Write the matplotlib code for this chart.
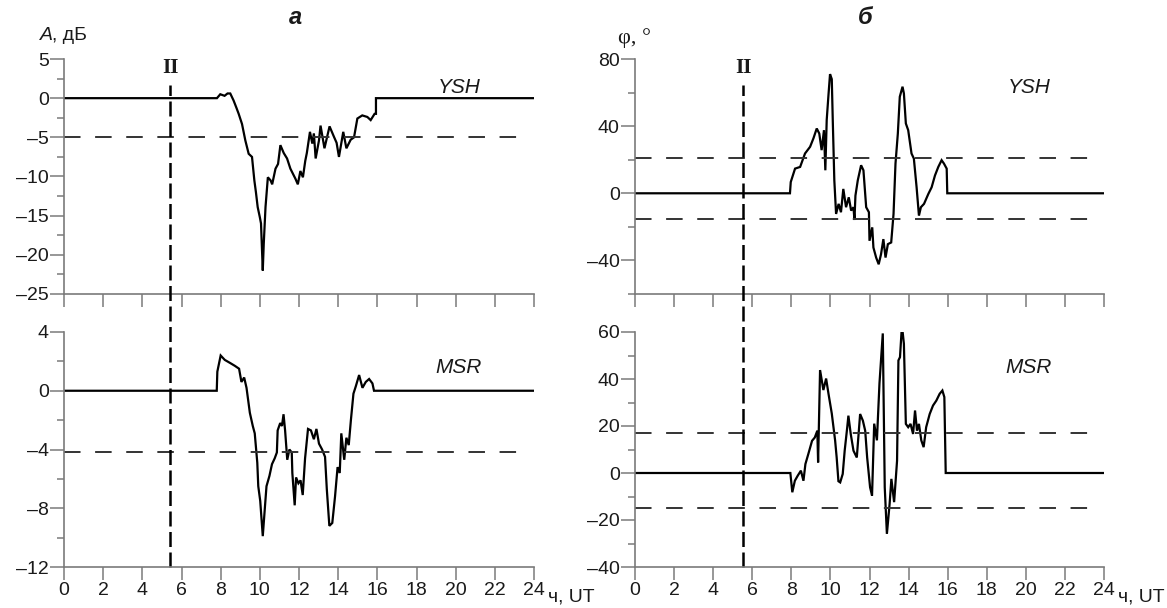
import matplotlib
matplotlib.use("Agg")
import matplotlib.pyplot as plt
import matplotlib.transforms as mtransforms
from matplotlib.ticker import MultipleLocator

plt.rcParams['font.family'] = ['Liberation Sans Narrow', 'Liberation Sans', 'DejaVu Sans']

# --- data (hours UT, value) ---
# amplitude, YSH (dB)
a_ysh_t = [0, 7.81, 7.98, 8.2, 8.35, 8.49, 8.66, 8.8, 8.92, 9.09, 9.26, 9.43, 9.6, 9.72, 9.8,
           9.89, 10.0, 10.06, 10.15, 10.2, 10.29, 10.41, 10.55, 10.63, 10.8, 10.93, 11.05,
           11.22, 11.39, 11.56, 11.82, 11.94, 12.07, 12.2, 12.32, 12.4, 12.56, 12.68, 12.76,
           12.85, 13.02, 13.1, 13.3, 13.56, 13.78, 13.92, 14.04, 14.26, 14.42, 14.64, 14.81,
           14.98, 15.23, 15.49, 15.66, 15.86, 15.93, 15.93, 24]
a_ysh_v = [0, 0, 0.5, 0.3, 0.6, 0.6, -0.3, -1.2, -2.0, -3.3, -5.4, -7.1, -7.5, -10.5, -12.0,
           -13.9, -15.2, -16.0, -22.0, -18.6, -13.9, -10.1, -10.5, -11.0, -9.0, -8.4, -6.0,
           -7.0, -7.7, -9.0, -10.3, -11.0, -9.3, -10.1, -8.0, -7.0, -4.3, -5.8, -4.5,
           -7.7, -5.4, -3.5, -6.4, -3.6, -4.9, -5.7, -7.5, -4.3, -6.4, -5.3, -5.0,
           -2.6, -2.2, -2.4, -2.8, -2.0, -2.0, 0, 0]

# amplitude, MSR (dB)
a_msr_t = [0, 7.8, 7.83, 8.0, 8.21, 8.47, 8.72, 8.94, 9.06, 9.2, 9.32, 9.49, 9.64, 9.74,
           9.87, 9.92, 10.02, 10.15, 10.25, 10.34, 10.49, 10.62, 10.76, 10.87, 10.91, 11.04,
           11.13, 11.21, 11.29, 11.4, 11.51, 11.63, 11.66, 11.78, 11.85, 11.97, 12.08, 12.19,
           12.31, 12.46, 12.61, 12.76, 12.89, 13.02, 13.18, 13.33, 13.42, 13.55, 13.7, 13.84,
           13.97, 14.08, 14.16, 14.31, 14.42, 14.54, 14.65, 14.78, 14.9, 15.07, 15.24, 15.41,
           15.58, 15.75, 15.83, 24]
a_msr_v = [0, 0, 1.3, 2.4, 2.1, 1.9, 1.7, 1.5, 0.6, 0.9, 0.2, -1.5, -2.4, -2.9,
           -4.9, -6.5, -7.5, -9.9, -8.1, -6.5, -5.8, -5.0, -4.6, -4.2, -2.7, -2.2,
           -2.4, -1.6, -2.7, -4.7, -4.0, -4.2, -5.6, -7.8, -5.9, -6.3, -6.1, -7.1,
           -4.6, -2.6, -2.7, -3.3, -2.6, -3.6, -4.0, -4.5, -6.7, -9.2, -9.0, -7.2,
           -5.2, -5.6, -2.9, -4.7, -3.2, -3.7, -2.0, -0.2, 0.3, 1.07, 0.2, 0.6,
           0.8, 0.5, 0, 0]

# phase, YSH (deg)
p_ysh_t = [0, 7.93, 7.97, 8.19, 8.45, 8.7, 8.96, 9.13, 9.3, 9.43, 9.55, 9.67, 9.74, 9.81,
           9.9, 9.98, 10.07, 10.12, 10.2, 10.29, 10.42, 10.54, 10.66, 10.8, 10.94, 11.06,
           11.18, 11.23, 11.28, 11.4, 11.57, 11.69, 11.83, 11.97, 12.0, 12.14, 12.2, 12.34,
           12.47, 12.59, 12.71, 12.82, 12.94, 13.11, 13.23, 13.33, 13.45, 13.55, 13.69, 13.76,
           13.86, 13.98, 14.15, 14.27, 14.41, 14.53, 14.63, 14.79, 15.01, 15.18, 15.35, 15.52,
           15.69, 15.81, 15.95, 15.98, 24]
p_ysh_v = [0, 0, 6.7, 14.7, 15.7, 23.7, 27.7, 32.7, 38.6, 35.6, 25.7, 37.6, 13.7, 43.6,
           58.5, 71, 68, 43.6, 7.7, -12.3, -6.3, -11.3, 2.6, -8.3, -2.4, -10.3,
           -8.3, -15.9, -1.4, 7.7, 16.7, 13.7, -8.3, -11.3, -28.3, -20.3, -32.3, -38.3,
           -42.3, -36.3, -27.3, -38.3, -30.3, -29.3, -12.3, 17.7, 35.6, 57.5, 63.5, 59.5,
           41.6, 37.6, 23.7, 20.7, 3.6, -13.3, -8.3, -6.3, -0.4, 3.6, 10.6, 15.7,
           19.7, 17.7, 14.7, 0, 0]

# phase, MSR (deg)
p_msr_t = [0, 7.95, 8.05, 8.18, 8.33, 8.49, 8.62, 8.72, 8.87, 9.06, 9.2, 9.33, 9.37, 9.47,
           9.64, 9.78, 9.9, 10.07, 10.24, 10.32, 10.41, 10.5, 10.63, 10.73, 10.86, 10.92,
           11.04, 11.18, 11.35, 11.52, 11.66, 11.78, 11.88, 12.03, 12.13, 12.24, 12.38, 12.51,
           12.68, 12.78, 12.89, 13.03, 13.12, 13.26, 13.41, 13.48, 13.56, 13.66, 13.76, 13.86,
           13.98, 14.1, 14.23, 14.33, 14.43, 14.53, 14.65, 14.77, 14.9, 15.08, 15.25, 15.42,
           15.59, 15.73, 15.83, 15.9, 24]
p_msr_v = [0, 0, -8.2, -3.3, -1.1, 1.0, -3.3, 3.8, 8.1, 13.7, 15.1, 18.0, 4.5, 43.8,
           35.3, 40.2, 33.8, 25.3, 13.9, 6.6, -3.5, -4.0, -0.4, 9.5, 19.4, 24.4,
           16.6, 9.5, 6.6, 25.1, 22.3, 18.0, 6.6, -6.1, -9.6, 21.0, 13.9, 38.1,
           59.4, -6.1, -25.9, -13.1, -2.5, -12.4, 5.2, 47.9, 49.3, 62.8, 55.0, 20.9,
           19.5, 20.9, 16.6, 26.6, 18.0, 20.9, 13.9, 11.0, 19.5, 25.1, 28.7, 30.8,
           33.7, 35.1, 32.3, 0, 0]

# threshold (dashed) levels
a_ysh_thr = [-5.0]
a_msr_thr = [-4.2]
p_ysh_thr = [21.0, -15.5]
p_msr_thr = [17.0, -14.8]
thr_end = 23.2

# "II" marker times
mark_left = 5.42
mark_right = 5.55

xticks = list(range(0, 25, 2))

gray = '#7a7a7a'
ink = '#1a1a1a'

fig = plt.figure(figsize=(11.67, 6.08), dpi=100)

W = 1167.0
H = 608.0


def box(x0, x1, ytop, ybot):
    return [x0 / W, 1 - ybot / H, (x1 - x0) / W, (ybot - ytop) / H]


ax_a1 = fig.add_axes(box(64, 534, 59, 294))
ax_a2 = fig.add_axes(box(64, 534, 332, 567))
ax_p1 = fig.add_axes(box(635, 1104, 59, 294))
ax_p2 = fig.add_axes(box(635, 1104, 332, 567))

panels = [
    (ax_a1, a_ysh_t, a_ysh_v, a_ysh_thr, (-25, 5), 5, 2.5, 'YSH'),
    (ax_a2, a_msr_t, a_msr_v, a_msr_thr, (-12, 4), 4, 2, 'MSR'),
    (ax_p1, p_ysh_t, p_ysh_v, p_ysh_thr, (-60, 80), 40, 20, 'YSH'),
    (ax_p2, p_msr_t, p_msr_v, p_msr_thr, (-40, 60), 20, 10, 'MSR'),
]

for ax, t, v, thr, ylim, maj, mnr, name in panels:
    ax.plot(t, v, color='black', lw=1.6, solid_joinstyle='miter')
    for level in thr:
        ax.plot([0, thr_end], [level, level], color='#333333', lw=1.4,
                dashes=(8.5, 7.5))
    ax.set_xlim(0, 24)
    ax.set_ylim(*ylim)
    ax.set_xticks(xticks)
    ax.yaxis.set_major_locator(MultipleLocator(maj))
    ax.yaxis.set_minor_locator(MultipleLocator(mnr))
    for s in ['top', 'right']:
        ax.spines[s].set_visible(False)
    for s in ['left', 'bottom']:
        ax.spines[s].set_color(gray)
        ax.spines[s].set_linewidth(1.2)
    ax.tick_params(axis='y', which='major', length=10, width=1.1, color=gray,
                   labelsize=14, labelcolor=ink, pad=1)
    ax.tick_params(axis='y', which='minor', length=5, width=1.1, color=gray)
    ax.tick_params(axis='x', which='major', length=9, width=1.1, color=gray,
                   labelsize=14, labelcolor=ink, pad=2)
    ax.text(0.84, 0.88 if ax in (ax_a1, ax_p1) else 0.85, name, transform=ax.transAxes,
            fontsize=15, style='italic', family=['Liberation Sans', 'DejaVu Sans'],
            color=ink, ha='center', va='center')

# y labels with en dash minus like the source
for ax in (ax_a1, ax_a2, ax_p1, ax_p2):
    ax.set_yticklabels([('\u2013' + str(int(abs(x))) if x < 0 else str(int(x)))
                        for x in ax.get_yticks()])

for ax in (ax_a1, ax_p1):
    ax.tick_params(axis='x', labelbottom=False)

# vertical dashed "II" line through both panels of each column
for ax_top, ax_bot, mark in ((ax_a1, ax_a2, mark_left), (ax_p1, ax_p2, mark_right)):
    tr = mtransforms.blended_transform_factory(ax_bot.transData, ax_bot.transAxes)
    ytop = (567 - 85) / 235.0
    ax_bot.plot([mark, mark], [0, ytop], transform=tr, color='black', lw=1.8,
                dashes=(6, 2.2), clip_on=False)
    ax_top.text(mark, 1.0 - (68 - 59) / 235.0, 'II', transform=mtransforms.blended_transform_factory(
        ax_top.transData, ax_top.transAxes), fontsize=15, fontweight='bold',
        family=['Liberation Serif', 'DejaVu Serif'], ha='center', va='center', color=ink)

# axis captions
for ax in (ax_a2, ax_p2):
    ax.text(1.03, -0.128, '\u0447, UT', transform=ax.transAxes, fontsize=14,
            color=ink, ha='left', va='center')

fig.text(40 / W, 1 - 35 / H, 'A', fontsize=14, style='italic',
         family=['Liberation Sans', 'DejaVu Sans'], color=ink, va='center')
fig.text(52 / W, 1 - 35 / H, ', \u0434\u0411', fontsize=14,
         family=['Liberation Sans', 'DejaVu Sans'], color=ink, va='center')
fig.text(618 / W, 1 - 38 / H, '\u03c6, \u00b0', fontsize=16,
         family=['Liberation Serif', 'DejaVu Serif'], color=ink, va='center')

fig.text(295 / W, 1 - 18 / H, '\u0430', fontsize=17, fontweight='bold', style='italic',
         family=['Liberation Sans', 'DejaVu Sans'], color=ink, ha='center', va='center')
fig.text(865 / W, 1 - 18 / H, '\u0431', fontsize=17, fontweight='bold', style='italic',
         family=['Liberation Sans', 'DejaVu Sans'], color=ink, ha='center', va='center')

fig.savefig('out.png', dpi=100, facecolor='white')
